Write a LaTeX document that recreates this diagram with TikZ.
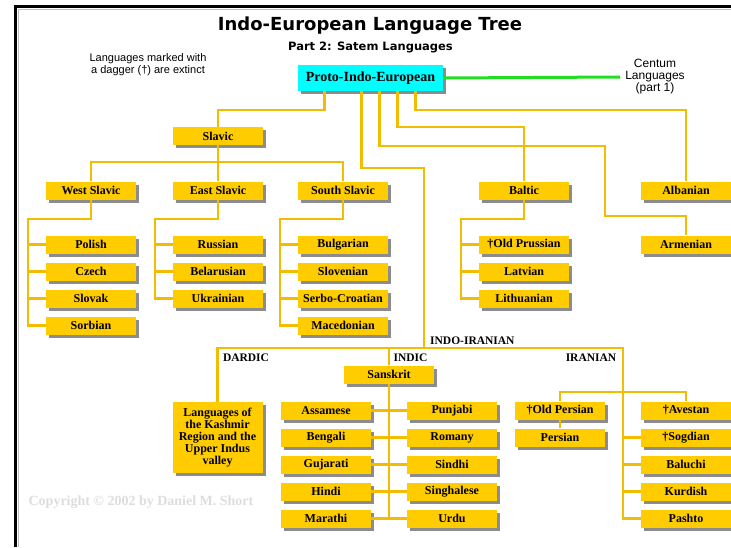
\documentclass[tikz,border=0pt]{standalone}
\usepackage{fontspec}
\setmainfont{Liberation Serif}
\newfontfamily\headfont{DejaVu Sans}
\newfontfamily\notefont{Liberation Sans}
\usetikzlibrary{shadows}
\definecolor{boxyellow}{HTML}{FFCC00}
\definecolor{linkyellow}{HTML}{F2BD00}
\definecolor{piecyan}{HTML}{00FFFF}
\definecolor{shadowgray}{HTML}{8C8C8C}
\definecolor{centumgreen}{HTML}{22DD22}
\definecolor{copygray}{HTML}{DDDDDD}

\begin{document}
\begin{tikzpicture}[x=1pt,y=-1pt,
  langbox/.style={fill=boxyellow,minimum width=90pt,minimum height=18pt,inner sep=0pt,
    align=center,font=\bfseries\fontsize{12}{12}\selectfont,
    drop shadow={shadow xshift=3pt,shadow yshift=-3pt,fill=shadowgray,opacity=1}},
  link/.style={draw=linkyellow,line width=2.2pt},
  grouplabel/.style={font=\bfseries\fontsize{11.5}{12}\selectfont,inner sep=0pt}]
\useasboundingbox (0,0) rectangle (731,547);
\draw[line width=1pt,gray!50] (18,547) -- (18,9) -- (731,9);
\draw[line width=3pt] (15.5,547) -- (15.5,6.5) -- (731,6.5);

% headings
\node[font=\headfont\bfseries\fontsize{18}{18}\selectfont] (title) at (370,26) {Indo-European Language Tree};
\node[font=\headfont\bfseries\fontsize{11.5}{12}\selectfont] (subtitle) at (370.5,47) {Part 2: Satem Languages};
\node[font=\notefont\fontsize{11}{12}\selectfont,align=center] (note) at (148,64.5) {Languages marked with\\a dagger (†) are extinct};
\node[font=\notefont\fontsize{12}{12}\selectfont,align=center,inner sep=5pt] (centum) at (655,77) {Centum\\Languages\\(part 1)};
\node[font=\bfseries\fontsize{14}{14}\selectfont,text=copygray] (copy) at (141,502) {Copyright © 2002 by Daniel M. Short};

\node[langbox,fill=piecyan,minimum width=145pt,minimum height=26pt,font=\bfseries\fontsize{14}{14}\selectfont] (pie) at (370.5,78) {Proto-Indo-European};
\draw[draw=centumgreen,line width=3pt] (pie.east) -- (centum.west);

% first and second level
\node[langbox] (slavic) at (218,136) {Slavic};
\foreach \n/\t/\x in {westsl/West Slavic/91,eastsl/East Slavic/218,southsl/South Slavic/343,baltic/Baltic/524,albanian/Albanian/686}
  \node[langbox] (\n) at (\x,190.5) {\t};
\node[langbox] (armenian) at (686,244.5) {Armenian};

% slavic and baltic languages
\foreach \n/\t/\y in {polish/Polish/244.5,czech/Czech/271.5,slovak/Slovak/298.5,sorbian/Sorbian/325.5}
  \node[langbox] (\n) at (91,\y) {\t};
\foreach \n/\t/\y in {russian/Russian/244.5,belarus/Belarusian/271.5,ukrain/Ukrainian/298.5}
  \node[langbox] (\n) at (218,\y) {\t};
\foreach \n/\t/\y in {bulgar/Bulgarian/244.5,sloven/Slovenian/271.5,serbo/Serbo-Croatian/298.5,maced/Macedonian/325.5}
  \node[langbox] (\n) at (343,\y) {\t};
\foreach \n/\t/\y in {oldprus/†Old Prussian/244.5,latvian/Latvian/271.5,lithuan/Lithuanian/298.5}
  \node[langbox] (\n) at (524,\y) {\t};

% indo-iranian
\node[grouplabel,anchor=south west] (iilabel) at (430,345) {INDO-IRANIAN};
\node[grouplabel] (dardlabel) at (246,358) {DARDIC};
\node[grouplabel] (indlabel) at (410.5,358) {INDIC};
\node[grouplabel] (iranlabel) at (591,358) {IRANIAN};
\node[langbox,minimum height=71pt] (dardic) at (217.5,437.5) {Languages of\\the Kashmir\\Region and the\\Upper Indus\\valley};
\node[langbox] (sanskrit) at (389,374.5) {Sanskrit};
\foreach \n/\t/\y in {assamese/Assamese/410.5,bengali/Bengali/437.5,gujarati/Gujarati/464.5,hindi/Hindi/491.5,marathi/Marathi/518.5}
  \node[langbox] (\n) at (326,\y) {\t};
\foreach \n/\t/\y in {punjabi/Punjabi/410.5,romany/Romany/437.5,sindhi/Sindhi/464.5,singhal/Singhalese/491.5,urdu/Urdu/518.5}
  \node[langbox] (\n) at (452,\y) {\t};
\node[langbox] (oldpers) at (560,410.5) {†Old Persian};
\node[langbox] (persian) at (560,437.5) {Persian};
\foreach \n/\t/\y in {avestan/†Avestan/410.5,sogdian/†Sogdian/437.5,baluchi/Baluchi/464.5,kurdish/Kurdish/491.5,pashto/Pashto/518.5}
  \node[langbox] (\n) at (686,\y) {\t};

\coordinate (armbend) at (605,216);
\coordinate (ii) at (424,348);
\coordinate (ir) at (623,348);

% connectors
\draw[link] ([xshift=-46pt]pie.south) -- ++(0,19) -| (slavic.north);
\draw[link] ([xshift=-9pt]pie.south) -- ++(0,77) -| (ii);
\draw[link] ([xshift=9pt]pie.south) -- ++(0,55) -| (armbend) -| (armenian.north);
\draw[link] ([xshift=27pt]pie.south) -- ++(0,36) -| (baltic.north);
\draw[link] ([xshift=45pt]pie.south) -- ++(0,19) -| (albanian.north);

\draw[link] (slavic.south) -- (eastsl.north);
\draw[link] (westsl.north) -- ++(0,-19) -| (southsl.north);
\draw[link] (westsl.south) -- ++(0,19) -| ([xshift=-18pt]sorbian.west) -- (sorbian.west);
\draw[link] (eastsl.south) -- ++(0,19) -| ([xshift=-18pt]ukrain.west) -- (ukrain.west);
\draw[link] (southsl.south) -- ++(0,19) -| ([xshift=-18pt]maced.west) -- (maced.west);
\draw[link] (baltic.south) -- ++(0,19) -| ([xshift=-18pt]lithuan.west) -- (lithuan.west);
\foreach \k in {polish,czech,slovak,russian,belarus,bulgar,sloven,serbo,oldprus,latvian}
  \draw[link] (\k.west) -- ++(-18,0);

\draw[link] (dardic.north) |- (ir) |- (pashto.west);
\draw[link] (sanskrit.north) -- (sanskrit.north |- ii);
\draw[link] (sanskrit.south) -- (sanskrit.south |- marathi.east);
\foreach \l/\r in {assamese/punjabi,bengali/romany,gujarati/sindhi,hindi/singhal,marathi/urdu}
  \draw[link] (\l.east) -- (\r.west);
\draw[link] (oldpers.north) -- ++(0,-9) -| (avestan.north);
\draw[link] (oldpers.south) -- (persian.north);
\foreach \k in {sogdian,baluchi,kurdish}
  \draw[link] (\k.west) -- (\k.west -| ir);
\end{tikzpicture}
\end{document}
